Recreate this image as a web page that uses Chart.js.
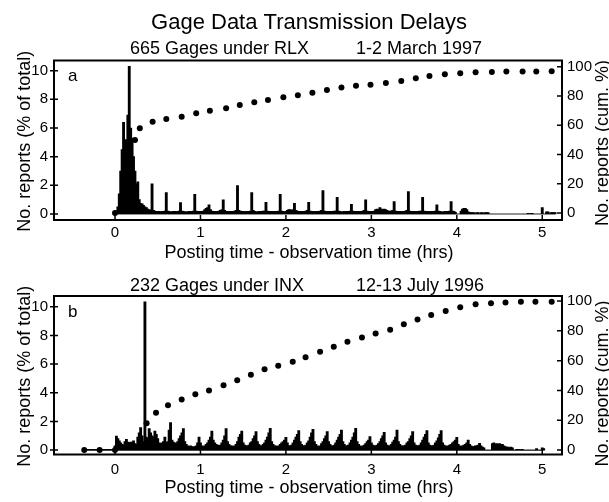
<!DOCTYPE html>
<html>
<head>
<meta charset="utf-8">
<script src="https://cdn.jsdelivr.net/npm/chart.js@4.4.0/dist/chart.umd.min.js"></script>
<style>
  html, body { margin: 0; padding: 0; background: #fff; }
  #wrap { position: relative; width: 609px; height: 502px; overflow: hidden; }
  canvas { position: absolute; left: 0; }
</style>
</head>
<body>
<div id="wrap">
  <canvas id="panel-a" width="609" height="266" style="top:0"></canvas>
  <canvas id="panel-b" width="609" height="236" style="top:266px"></canvas>
</div>
<script>
// Tick labels shared by both panels
const xTicks = [0, 1, 2, 3, 4, 5];
const pctTicks = [0, 2, 4, 6, 8, 10];
const cumTicks = [0, 20, 40, 60, 80, 100];

// (a) 665 gages under RLX, 1-2 March 1997
// % of reports in each 1-minute delay bin, first bin = minute 0, one row per 10 minutes
const rlxStartMin = 0;
const rlxPct = [
  0.1, 0.2, 0.5, 1.4, 3.0, 4.5, 6.4, 4.7, 5.2, 6.9,
  10.3, 6.0, 5.3, 4.0, 3.0, 2.1, 2.25, 1.0, 0.75, 0.7,
  0.6, 0.5, 0.45, 0.35, 0.3, 0.25, 2.1, 0.25, 0.2, 0.18,
  0.18, 0.18, 0.15, 0.18, 0.18, 0.2, 1.5, 0.2, 0.18, 0.15,
  0.15, 0.18, 0.18, 0.15, 0.18, 0.2, 0.8, 0.2, 0.18, 0.15,
  0.15, 0.15, 0.18, 0.18, 0.18, 0.2, 1.37, 0.2, 0.18, 0.15,
  0.18, 0.18, 0.2, 0.3, 0.4, 0.45, 0.63, 0.3, 0.2, 0.18,
  0.18, 0.18, 0.18, 0.2, 0.25, 0.3, 0.98, 0.25, 0.18, 0.18,
  0.15, 0.18, 0.18, 0.18, 0.2, 0.25, 1.98, 0.25, 0.2, 0.18,
  0.18, 0.15, 0.18, 0.18, 0.18, 0.2, 1.49, 0.25, 0.18, 0.15,
  0.15, 0.18, 0.18, 0.18, 0.2, 0.2, 0.82, 0.2, 0.18, 0.18,
  0.18, 0.15, 0.18, 0.18, 0.18, 0.2, 1.37, 0.2, 0.18, 0.15,
  0.18, 0.25, 0.3, 0.3, 0.25, 0.3, 0.75, 0.25, 0.2, 0.18,
  0.18, 0.18, 0.18, 0.18, 0.2, 0.25, 0.82, 0.2, 0.18, 0.18,
  0.15, 0.18, 0.18, 0.18, 0.2, 0.25, 1.63, 0.2, 0.18, 0.18,
  0.18, 0.15, 0.18, 0.18, 0.2, 0.2, 1.17, 0.2, 0.18, 0.15,
  0.15, 0.18, 0.18, 0.18, 0.18, 0.2, 0.68, 0.2, 0.18, 0.18,
  0.18, 0.18, 0.18, 0.18, 0.2, 0.25, 0.98, 0.2, 0.18, 0.15,
  0.18, 0.18, 0.2, 0.3, 0.35, 0.3, 0.44, 0.35, 0.3, 0.35,
  0.3, 0.25, 0.2, 0.2, 0.2, 0.25, 0.86, 0.2, 0.18, 0.18,
  0.18, 0.18, 0.18, 0.18, 0.2, 0.25, 1.56, 0.2, 0.18, 0.18,
  0.18, 0.18, 0.18, 0.18, 0.2, 0.2, 1.17, 0.2, 0.18, 0.18,
  0.18, 0.15, 0.18, 0.18, 0.18, 0.2, 0.63, 0.2, 0.18, 0.15,
  0.15, 0.15, 0.18, 0.18, 0.18, 0.2, 0.86, 0.2, 0.18, 0.12,
  0, 0, 0, 0.2, 0.35, 0.4, 0.4, 0.3, 0.15, 0.1,
  0.1, 0.1, 0.1, 0, 0.1, 0.1, 0, 0.1, 0.1, 0,
  0.1, 0.1, 0.1, 0, 0, 0, 0, 0, 0, 0,
  0, 0, 0, 0, 0, 0, 0, 0, 0, 0,
  0, 0, 0, 0, 0, 0, 0, 0, 0, 0,
  0.05, 0, 0.05, 0.05, 0, 0, 0, 0, 0, 0,
  0.45, 0, 0, 0.15, 0.15, 0, 0.1, 0.1, 0.1, 0.1
];
// cumulative % dots (right axis)
const rlxCumHrs = [0, 0.234, 0.29, 0.44, 0.60, 0.78, 0.95, 1.11, 1.30, 1.46, 1.63, 1.79, 1.97, 2.14, 2.31, 2.48,
  2.65, 2.82, 2.99, 3.17, 3.35, 3.52, 3.68, 3.86, 4.04, 4.22, 4.41, 4.58, 4.77, 4.93, 5.11];
const rlxCumPct = [0, 49.9, 57.9, 62.4, 64.2, 65.8, 68.1, 69.9, 71.5, 73.8, 75.6, 77.2, 79.1, 80.4, 82.2, 84.1,
  85.7, 87.0, 87.7, 88.9, 90.2, 92.1, 93.6, 94.8, 95.5, 96.2, 96.4, 96.6, 96.6, 96.6, 96.8];

// (b) 232 gages under INX, 12-13 July 1996
// first bin = minute -22; the first 22 bins are the thin line before zero
const inxStartMin = -22;
const inxPct = [
  0.05, 0.05, 0.05, 0.05, 0.05, 0.05, 0.05, 0.05, 0.05, 0.05, 0.05,
  0.05, 0.05, 0.05, 0.05, 0.05, 0.05, 0.05, 0.05, 0.05, 0.05, 0.05,
  0.3, 0.98, 0.8, 0.65, 0.5, 0.4, 0.35, 0.6, 0.75, 0.55,
  0.5, 0.55, 0.5, 0.65, 0.45, 0.4, 0.9, 1.2, 1.56, 1.0,
  0.6, 10.35, 0.9, 0.8, 1.5, 1.2, 1.0, 0.9, 1.33, 1.1,
  0.8, 0.5, 0.45, 0.5, 0.6, 0.9, 0.5, 0.6, 1.4, 1.91,
  0.7, 0.55, 0.5, 0.45, 0.6, 0.8, 1.0, 1.2, 1.5, 0.6,
  0.4, 0.3, 0.25, 0.3, 0.25, 0.2, 0.25, 0.3, 0.5, 0.9,
  0.5, 0.3, 0.25, 0.3, 0.4, 0.5, 0.7, 0.9, 1.33, 0.7,
  0.5, 0.4, 0.35, 0.3, 0.35, 0.5, 0.7, 1.0, 1.5, 0.6,
  0.4, 0.3, 0.3, 0.25, 0.3, 0.4, 0.6, 0.9, 1.1, 1.33,
  0.5, 0.35, 0.3, 0.3, 0.35, 0.5, 0.6, 0.8, 1.0, 1.29,
  0.6, 0.4, 0.3, 0.3, 0.4, 0.5, 0.7, 0.9, 1.2, 1.52,
  0.6, 0.4, 0.3, 0.3, 0.25, 0.3, 0.4, 0.5, 0.6, 0.7,
  0.89, 0.5, 0.3, 0.3, 0.35, 0.5, 0.7, 0.9, 1.1, 1.36,
  0.6, 0.4, 0.3, 0.3, 0.35, 0.5, 0.65, 0.9, 1.2, 1.45,
  0.6, 0.4, 0.3, 0.25, 0.3, 0.45, 0.6, 0.8, 1.0, 1.29,
  0.6, 0.4, 0.3, 0.3, 0.35, 0.5, 0.7, 0.9, 1.1, 1.4,
  0.6, 0.4, 0.3, 0.3, 0.35, 0.5, 0.7, 0.9, 1.2, 1.52,
  0.6, 0.4, 0.3, 0.25, 0.3, 0.35, 0.45, 0.6, 0.7, 0.94,
  0.5, 0.35, 0.3, 0.3, 0.35, 0.45, 0.6, 0.8, 1.0, 1.24,
  0.5, 0.35, 0.3, 0.3, 0.4, 0.55, 0.7, 0.9, 1.4, 0.6,
  0.4, 0.3, 0.3, 0.3, 0.35, 0.5, 0.6, 0.8, 1.0, 1.29,
  0.5, 0.35, 0.3, 0.3, 0.35, 0.5, 0.7, 0.9, 1.1, 1.36,
  0.5, 0.35, 0.3, 0.3, 0.35, 0.5, 0.65, 0.85, 1.1, 1.36,
  0.5, 0.35, 0.3, 0.25, 0.3, 0.35, 0.4, 0.5, 0.6, 0.7,
  0.89, 0.4, 0.3, 0.25, 0.3, 0.35, 0.4, 0.5, 0.7, 0.4,
  0.3, 0.25, 0.25, 0.3, 0.3, 0.35, 0.47, 0.3, 0.2, 0.15,
  0, 0, 0, 0, 0, 0.45, 0.5, 0.4, 0.45, 0.4,
  0.45, 0.35, 0.4, 0.3, 0.25, 0.2, 0.2, 0.15, 0.2, 0.15,
  0, 0, 0.05, 0, 0.05, 0, 0.05, 0, 0, 0,
  0, 0, 0, 0, 0, 0, 0.1, 0, 0, 0,
  0.16, 0.1
];
const inxCumHrs = [-0.36, -0.18, 0, 0.37, 0.48, 0.62, 0.78, 0.94, 1.10, 1.27, 1.43, 1.59, 1.75, 1.91, 2.08, 2.23,
  2.40, 2.56, 2.72, 2.89, 3.05, 3.22, 3.38, 3.54, 3.70, 3.87, 4.04, 4.22, 4.40, 4.57, 4.75, 4.92, 5.11];
const inxCumPct = [0, 0, 0, 17.9, 25.0, 30.0, 34.0, 37.4, 40.0, 43.5, 46.9, 50.6, 54.2, 56.6, 59.3, 62.2,
  66.0, 69.3, 72.7, 75.6, 78.3, 80.8, 84.4, 87.7, 90.6, 93.3, 95.8, 97.8, 98.5, 99.1, 99.5, 99.5, 99.5];

const FONT = '"Liberation Sans", Arial, Helvetica, sans-serif';

// frame, inward ticks and all the captions (Matlab style)
const frame = {
  id: 'frame',
  afterDraw(chart, args, o) {
    const ctx = chart.ctx;
    const a = chart.chartArea;
    const sx = chart.scales.x, sy = chart.scales.y, sy2 = chart.scales.y2;
    ctx.save();
    ctx.strokeStyle = '#000';
    ctx.lineWidth = 2;
    ctx.strokeRect(a.left, a.top, a.right - a.left, a.bottom - a.top);

    ctx.lineWidth = 1.5;
    ctx.beginPath();
    xTicks.forEach(v => {
      const px = sx.getPixelForValue(v);
      ctx.moveTo(px, a.bottom); ctx.lineTo(px, a.bottom - 5);
    });
    pctTicks.forEach(v => {
      const py = sy.getPixelForValue(v);
      ctx.moveTo(a.left - 4, py); ctx.lineTo(a.left + 4, py);
    });
    cumTicks.forEach(v => {
      const py = sy2.getPixelForValue(v);
      ctx.moveTo(a.right - 5, py); ctx.lineTo(a.right + 1, py);
    });
    ctx.stroke();

    ctx.fillStyle = '#000';
    ctx.textBaseline = 'alphabetic';
    ctx.textAlign = 'left';
    ctx.font = '17px ' + FONT;
    ctx.fillText(o.letter, 68, o.letterY);

    ctx.font = '18px ' + FONT;
    ctx.fillText(o.subL, 130, o.subY);
    ctx.fillText(o.subR, 356, o.subY);

    if (o.title) {
      ctx.textAlign = 'center';
      ctx.font = '22px ' + FONT;
      ctx.fillText(o.title, 309, o.titleY);
    }

    ctx.textAlign = 'center';
    ctx.font = '18px ' + FONT;
    ctx.fillText('Posting time - observation time (hrs)', 309, o.xTitleY);

    // both vertical titles read bottom to top
    ctx.textAlign = 'left';
    ctx.save();
    ctx.translate(29.5, o.yTitleStart);
    ctx.rotate(-Math.PI / 2);
    ctx.fillText('No. reports (% of total)', 0, 0);
    ctx.restore();
    ctx.save();
    ctx.translate(608, o.y2TitleStart);
    ctx.rotate(-Math.PI / 2);
    ctx.fillText('No. reports (cum. %)', 0, 0);
    ctx.restore();
    ctx.restore();
  }
};

function makePanel(id, startMin, pct, cumHrs, cumPct, lim, deco) {
  const bars = pct.map((v, i) => ({ x: (startMin + i) / 60, y: v }));
  const dots = cumHrs.map((h, i) => ({ x: h, y: cumPct[i] }));
  const tickFont = { family: FONT, size: 15 };
  return new Chart(document.getElementById(id), {
    type: 'bar',
    data: {
      datasets: [
        {
          type: 'line',
          data: dots,
          yAxisID: 'y2',
          showLine: false,
          pointRadius: 3,
          pointBackgroundColor: '#000',
          pointBorderWidth: 0,
          order: 0,
        },
        {
          data: bars,
          yAxisID: 'y',
          backgroundColor: '#000',
          borderWidth: 0,
          barThickness: 2.2,
          order: 1,
        },
      ],
    },
    options: {
      responsive: false,
      animation: false,
      events: [],
      layout: { padding: { top: lim.top, left: 0, right: 0, bottom: 0 } },
      plugins: { legend: { display: false }, tooltip: { enabled: false }, frame: deco },
      scales: {
        x: {
          type: 'linear', min: -0.714, max: 5.231, offset: false,
          grid: { display: false, drawTicks: false }, border: { display: false },
          ticks: { font: tickFont, color: '#000', padding: lim.xPad },
          afterBuildTicks: s => { s.ticks = xTicks.map(v => ({ value: v })); },
          afterFit: s => { s.height = lim.xH; },
        },
        y: {
          type: 'linear', position: 'left', min: lim.yMin, max: lim.yMax,
          grid: { display: false, drawTicks: false }, border: { display: false },
          ticks: { font: tickFont, color: '#000', padding: 6 },
          afterBuildTicks: s => { s.ticks = pctTicks.map(v => ({ value: v })); },
          afterFit: s => { s.width = 54; },
        },
        y2: {
          type: 'linear', position: 'right', min: lim.y2Min, max: lim.y2Max,
          grid: { display: false, drawTicks: false }, border: { display: false },
          ticks: { font: tickFont, color: '#000', padding: 5 },
          afterBuildTicks: s => { s.ticks = cumTicks.map(v => ({ value: v })); },
          afterFit: s => { s.width = 47; },
        },
      },
    },
    plugins: [frame],
  });
}

makePanel('panel-a', rlxStartMin, rlxPct, rlxCumHrs, rlxCumPct,
  { top: 60.5, xH: 46, xPad: 4.3, yMin: -0.42, yMax: 10.71, y2Min: -4.8, y2Max: 104.2 },
  { letter: 'a', letterY: 80.7, title: 'Gage Data Transmission Delays', titleY: 28.5,
    subL: '665 Gages under RLX', subR: '1-2 March 1997', subY: 54,
    xTitleY: 258, yTitleStart: 231.7, y2TitleStart: 226 });

makePanel('panel-b', inxStartMin, inxPct, inxCumHrs, inxCumPct,
  { top: 30, xH: 47.5, xPad: 6.5, yMin: -0.31, yMax: 10.75, y2Min: -3.0, y2Max: 103.4 },
  { letter: 'b', letterY: 50.7, title: '',
    subL: '232 Gages under INX', subR: '12-13 July 1996', subY: 24.7,
    xTitleY: 226.7, yTitleStart: 200.7, y2TitleStart: 200.5 });
</script>
</body>
</html>
